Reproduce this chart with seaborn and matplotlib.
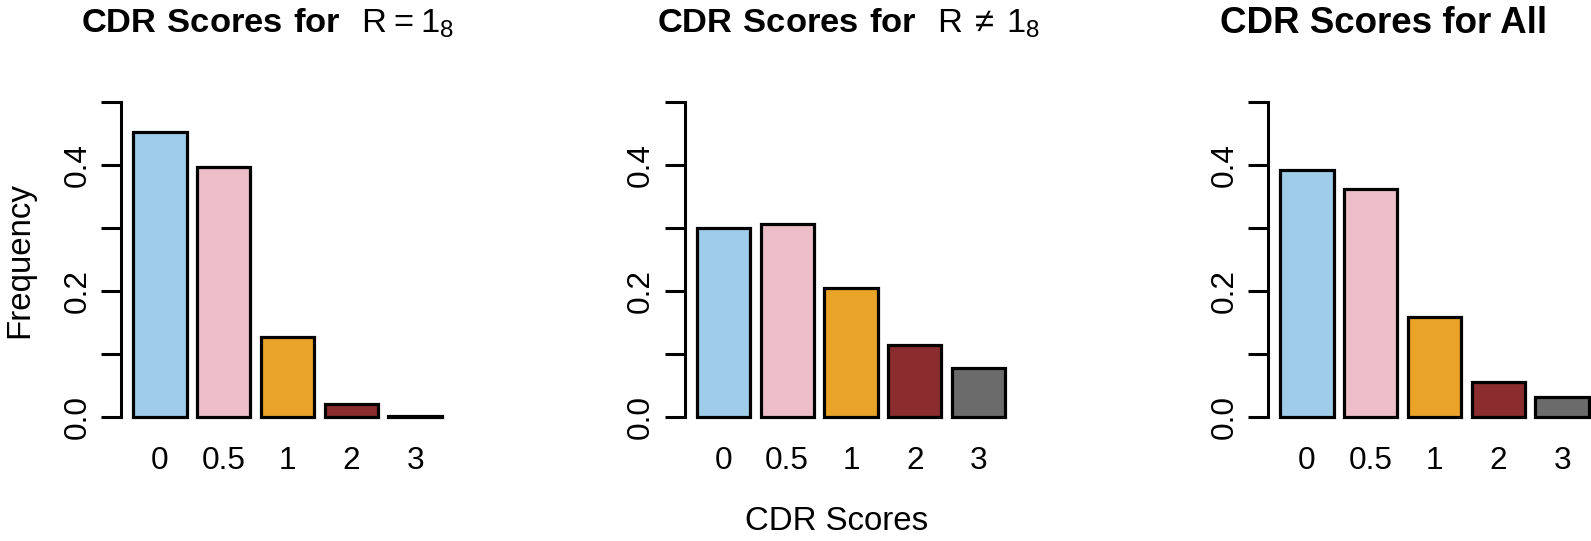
import matplotlib
matplotlib.use("Agg")
import matplotlib.pyplot as plt
import seaborn as sns

sns.set_style("white")
plt.rcParams['font.family'] = ['Liberation Sans', 'DejaVu Sans']
plt.rcParams['mathtext.fontset'] = 'custom'
plt.rcParams['mathtext.rm'] = 'Liberation Sans'
plt.rcParams['mathtext.bf'] = 'Liberation Sans:bold'
plt.rcParams['text.color'] = 'black'
plt.rcParams['axes.labelcolor'] = 'black'
plt.rcParams['xtick.color'] = 'black'
plt.rcParams['ytick.color'] = 'black'

# data
cdr_levels = ['0', '0.5', '1', '2', '3']
freq_r_eq = [0.453, 0.397, 0.127, 0.020, 0.002]
freq_r_neq = [0.300, 0.306, 0.204, 0.114, 0.077]
freq_all = [0.392, 0.362, 0.158, 0.056, 0.031]
bar_colors = ['#9ECCE9', '#EDBEC8', '#E8A328', '#8B2D2F', '#6B6B6B']

titles = [r'$\mathbf{CDR\ Scores\ for}\ \ \mathrm{R = 1_8}$',
          r'$\mathbf{CDR\ Scores\ for}\ \ \mathrm{R\,\neq\,1_8}$',
          'CDR Scores for All']
title_size = [24.8, 24.8, 26.5]

W, H = 1591, 541
fig = plt.figure(figsize=(W / 100, H / 100), dpi=100)

# pixel layout: y-axis line x position, title centre
axis_x = [121, 684.5, 1268]
title_x = [267, 848, 1384]
pitch = 63.8     # px per bar slot
y_scale = 630    # px per unit of frequency
y0_px = 417      # px of y = 0
xlo, xhi = -0.61, 4.61
ylo, yhi = -0.02, 0.52

for i, vals in enumerate([freq_r_eq, freq_r_neq, freq_all]):
    left = axis_x[i] / W
    width = (xhi - xlo) * pitch / W
    bottom = (H - (y0_px - ylo * y_scale)) / H
    height = (yhi - ylo) * y_scale / H
    ax = fig.add_axes([left, bottom, width, height])
    sns.barplot(x=cdr_levels, y=vals, hue=cdr_levels, palette=bar_colors,
                order=cdr_levels, legend=False, width=0.835, saturation=1,
                edgecolor='black', linewidth=2.3, ax=ax)
    ax.set_xlim(xlo, xhi)
    ax.set_ylim(ylo, yhi)
    for s in ['top', 'right', 'bottom']:
        ax.spines[s].set_visible(False)
    ax.spines['left'].set_linewidth(2.2)
    ax.spines['left'].set_color('black')
    ax.spines['left'].set_bounds(0, 0.5)
    ax.set_yticks([0, 0.1, 0.2, 0.3, 0.4, 0.5])
    ax.set_yticklabels(['0.0', '', '0.2', '', '0.4', ''], rotation=90,
                       va='center', fontsize=22.7)
    ax.tick_params(axis='y', length=14.4, width=2.2, color='black', pad=6,
                   left=True)
    ax.tick_params(axis='x', length=0, pad=12, labelsize=22.7)
    ax.set_xlabel('')
    ax.set_ylabel('')
    ax.set_facecolor('white')
    fig.text(title_x[i] / W, 1 - 33 / H, titles[i], ha='center',
             va='baseline', fontsize=title_size[i], fontweight='bold')

fig.text(837 / W, 1 - 530 / H, 'CDR Scores', ha='center', va='baseline',
         fontsize=23.8)
fig.text(20 / W, 1 - 260 / H, 'Frequency', ha='center', va='center',
         rotation=90, fontsize=23.8)

fig.savefig('out.png', dpi=100, facecolor='white')
